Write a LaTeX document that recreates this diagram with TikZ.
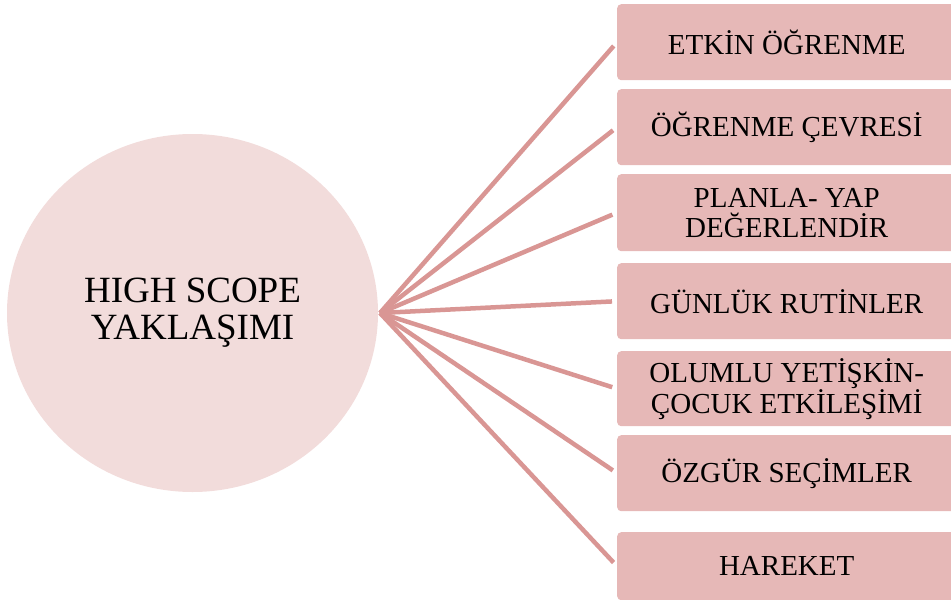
\documentclass[tikz,border=0pt]{standalone}
\usepackage{fontspec}
\setmainfont{Liberation Serif}
\usetikzlibrary{shapes.geometric}
\definecolor{hubfill}{HTML}{F2DCDB}
\definecolor{itemfill}{HTML}{E6B8B7}
\definecolor{spoke}{HTML}{D99694}
\tikzset{
  hub/.style={ellipse, fill=hubfill, minimum width=371pt, minimum height=358pt,
    inner sep=0pt, align=center, font=\fontsize{37}{37}\selectfont},
  itembox/.style={rectangle, rounded corners=4pt, fill=itemfill, anchor=north west,
    minimum width=345pt, inner sep=0pt, align=center, text width=330pt,
    font=\fontsize{29}{30}\selectfont},
  spokeline/.style={draw=spoke, line width=4.5pt, shorten >=5pt}
}
\begin{document}
\begin{tikzpicture}[x=1pt, y=-1pt]
\useasboundingbox (0,0) rectangle (951,600);
\node[hub] (hub) at (192.5,313) {HIGH SCOPE\\YAKLAŞIMI};
\coordinate (c) at (380,313);
\node[itembox, minimum height=76pt] (b1) at (617,4) {};
\node[itembox, minimum height=76pt] (b2) at (617,89) {};
\node[itembox, minimum height=77pt] (b3) at (617,174) {};
\node[itembox, minimum height=76pt] (b4) at (617,263) {};
\node[itembox, minimum height=75pt] (b5) at (617,351) {};
\node[itembox, minimum height=76pt] (b6) at (617,435) {};
\node[itembox, minimum height=68pt] (b7) at (617,532) {};
% labels, centred on the visible part of each box
\foreach \b/\t in {b1/{ETKİN ÖĞRENME}, b2/{ÖĞRENME ÇEVRESİ}, b3/{PLANLA- YAP\\DEĞERLENDİR},
  b4/{GÜNLÜK RUTİNLER}, b5/{OLUMLU YETİŞKİN-\\ÇOCUK ETKİLEŞİMİ}, b6/{ÖZGÜR SEÇİMLER}, b7/{HAREKET}}
  \node[align=center, font=\fontsize{29}{30}\selectfont, inner sep=0pt]
    at ([xshift=-3pt]\b.center) {\t};
\foreach \b in {b1,b2,b3,b4,b5,b6,b7}
  \draw[spokeline] (c) -- (\b.west);
\end{tikzpicture}
\end{document}
